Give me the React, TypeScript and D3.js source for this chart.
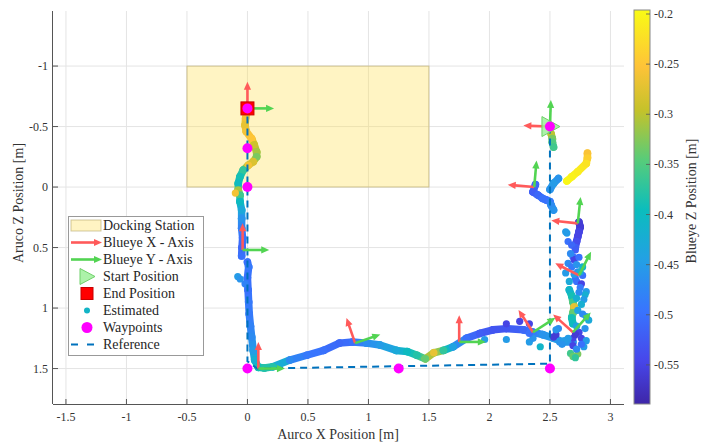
import React from 'react';
import * as d3 from 'd3';

const W = 709;
const H = 443;

// axes
const xTicks = [-1.5, -1, -0.5, 0, 0.5, 1, 1.5, 2, 2.5, 3];
const yTicks = [-1, -0.5, 0, 0.5, 1, 1.5];
const cTicks = [-0.55, -0.5, -0.45, -0.4, -0.35, -0.3, -0.25, -0.2];

// docking station (x range, z range)
const dockX = [-0.5, 1.5];
const dockZ = [-1, 0];

// waypoints + reference path
const wpX = [2.5, 2.5, 1.25, 0, 0, 0, 0];
const wpZ = [-0.5, 1.5, 1.5, 1.5, 0, -0.32, -0.65];
const refX = [2.5, 2.5, 0.08, 0, 0];
const refZ = [-0.5, 1.46, 1.5, 1.44, -0.65];

// blueye poses for the axis arrows (yaw in degrees, 0 = X axis pointing -Z)
const poseX = [2.5, 2.37, 2.73, 2.74, 2.69, 2.36, 1.75, 0.89, 0.09, -0.04, 0];
const poseZ = [-0.5, 0.0, 0.3, 0.73, 1.2, 1.2, 1.28, 1.29, 1.5, 0.52, -0.65];
const poseYaw = [-88, -85, -84, -63, -48, -33, 0, -19, 0, 0, 0];

// estimated trajectory, dense pieces (x, z, blueye depth)
const trackAX = [0.0, -0.015, -0.02, -0.01, 0.035, 0.056, 0.076, 0.076, 0.048, 0.007, -0.035, -0.062, -0.076, -0.076, -0.062, -0.062, -0.048, -0.048, -0.048, -0.04, -0.045, -0.048];
const trackAZ = [-0.63, -0.57, -0.51, -0.46, -0.4, -0.35, -0.29, -0.25, -0.21, -0.18, -0.14, -0.085, -0.03, 0.025, 0.066, 0.12, 0.19, 0.26, 0.34, 0.42, 0.5, 0.57];
const trackAD = [-0.26, -0.26, -0.27, -0.26, -0.25, -0.29, -0.31, -0.33, -0.28, -0.26, -0.37, -0.39, -0.4, -0.31, -0.36, -0.4, -0.43, -0.46, -0.48, -0.5, -0.51, -0.5];

const trackBX = [0.0, 0.01, 0.0, 0.005, 0.01, 0.015, 0.025, 0.035, 0.048, 0.06, 0.09, 0.14, 0.21, 0.35, 0.49, 0.63, 0.76, 0.87, 0.985, 1.095, 1.23, 1.32, 1.4, 1.47, 1.54, 1.62, 1.7, 1.81, 1.92, 2.03, 2.14, 2.28, 2.36, 2.44, 2.53, 2.61, 2.69];
const trackBZ = [0.62, 0.66, 0.75, 0.85, 0.95, 1.05, 1.15, 1.24, 1.35, 1.43, 1.49, 1.495, 1.485, 1.43, 1.39, 1.35, 1.29, 1.28, 1.29, 1.305, 1.35, 1.36, 1.39, 1.42, 1.37, 1.35, 1.32, 1.25, 1.21, 1.18, 1.17, 1.18, 1.2, 1.22, 1.25, 1.28, 1.28];
const trackBD = [-0.5, -0.49, -0.5, -0.5, -0.49, -0.49, -0.48, -0.47, -0.45, -0.42, -0.39, -0.38, -0.38, -0.47, -0.49, -0.5, -0.51, -0.5, -0.47, -0.45, -0.43, -0.4, -0.38, -0.34, -0.27, -0.37, -0.44, -0.5, -0.52, -0.53, -0.53, -0.51, -0.49, -0.46, -0.45, -0.45, -0.46];

const trackCX = [2.81, 2.81, 2.8, 2.73, 2.68, 2.64];
const trackCZ = [-0.28, -0.24, -0.195, -0.127, -0.085, -0.05];
const trackCD = [-0.255, -0.24, -0.22, -0.21, -0.205, -0.2];

const trackDX = [2.57, 2.53, 2.5];
const trackDZ = [-0.07, -0.03, 0.02];
const trackDD = [-0.46, -0.45, -0.46];

const trackEX = [2.38, 2.36, 2.4, 2.44, 2.47, 2.5, 2.51, 2.53];
const trackEZ = [-0.02, 0.04, 0.066, 0.094, 0.107, 0.12, 0.15, 0.19];
const trackED = [-0.51, -0.52, -0.51, -0.5, -0.5, -0.49, -0.47, -0.46];

const trackSX = [2.51, 2.52, 2.52, 2.53];
const trackSZ = [-0.44, -0.4, -0.37, -0.33];
const trackSD = [-0.3, -0.33, -0.35, -0.36];

const trackGX = [2.74, 2.75, 2.74, 2.73, 2.72, 2.71];
const trackGZ = [0.29, 0.33, 0.37, 0.41, 0.45, 0.5];
const trackGD = [-0.56, -0.56, -0.55, -0.55, -0.54, -0.52];

const trackHX = [2.66, 2.68, 2.69, 2.7, 2.69, 2.68, 2.69];
const trackHZ = [0.85, 0.9, 0.95, 0.99, 1.04, 1.08, 1.13];
const trackHD = [-0.41, -0.39, -0.36, -0.27, -0.34, -0.39, -0.4];

// estimated trajectory, loose points
const dotX = [-0.1, -0.08, -0.06, -0.02, 2.64, 2.63, 2.65, 2.68, 2.71, 2.69, 2.65, 2.68, 2.77, 2.73, 2.63, 2.77, 2.71, 2.72, 2.76, 2.75, 2.8, 2.79, 2.78, 2.8, 2.82, 2.74, 2.76, 2.69, 2.8, 2.69, 2.78, 2.65, 2.58, 2.53, 2.55, 2.57, 2.55, 2.67, 2.69, 2.73, 2.71, 2.14, 2.25, 2.33, 2.14, 2.33, 2.36, 1.96, 2.42, 2.33,
  2.7, 2.74, 2.67, 2.72, 2.75, 2.7, 2.66, 2.74, 2.72, 2.76, 2.73, 2.77, 2.72, 2.79, 2.71, 2.76, 2.72, 2.62, 2.6];
const dotZ = [0.05, 0.74, 0.76, 0.8, 0.38, 0.37, 0.45, 0.48, 0.52, 0.575, 0.63, 0.66, 0.66, 0.7, 0.71, 0.73, 0.755, 0.78, 0.8, 0.83, 0.865, 0.89, 0.93, 1.07, 1.1, 1.2, 1.25, 1.25, 1.27, 1.31, 1.32, 1.25, 1.28, 1.24, 1.22, 1.17, 1.18, 1.375, 1.4, 1.38, 1.41, 1.13, 1.11, 1.13, 1.26, 1.28, 1.25, 1.26, 1.32, 1.21,
  0.6, 0.58, 0.55, 0.64, 0.7, 0.72, 0.78, 0.87, 0.92, 0.97, 1.02, 1.05, 1.15, 1.17, 1.22, 1.3, 1.34, 1.27, 1.3];
const dotD = [-0.26, -0.45, -0.46, -0.48, -0.45, -0.45, -0.5, -0.51, -0.52, -0.5, -0.47, -0.49, -0.41, -0.47, -0.45, -0.5, -0.5, -0.5, -0.55, -0.49, -0.45, -0.42, -0.45, -0.45, -0.43, -0.55, -0.55, -0.55, -0.45, -0.55, -0.45, -0.45, -0.46, -0.56, -0.56, -0.47, -0.46, -0.36, -0.34, -0.33, -0.37, -0.55, -0.55, -0.55, -0.45, -0.45, -0.46, -0.45, -0.41, -0.5,
  -0.55, -0.5, -0.47, -0.46, -0.42, -0.45, -0.43, -0.47, -0.42, -0.42, -0.44, -0.47, -0.44, -0.46, -0.56, -0.5, -0.47, -0.45, -0.46];

// parula colormap stops
const parulaT = [0, 0.111, 0.238, 0.365, 0.492, 0.619, 0.746, 0.857, 1];
const parulaC = ['#3e26a8', '#4747eb', '#3875fe', '#23a0e5', '#0bbdbd', '#57cc7a', '#c5c22a', '#fec338', '#f9fb15'];
const cMin = -0.589;
const cMax = -0.196;

const FONT = "'Liberation Serif', 'DejaVu Serif', serif";
const RED = '#ff5a5a';
const GREEN = '#52d452';
const ARROW_LEN = 0.22;

function Arrow({ x0, y0, x1, y1, color }: { x0: number; y0: number; x1: number; y1: number; color: string }) {
  const dx = x1 - x0;
  const dy = y1 - y0;
  const len = Math.sqrt(dx * dx + dy * dy);
  const ux = dx / len;
  const uy = dy / len;
  const hl = 8;
  const hw = 3.6;
  const bx = x1 - ux * hl;
  const by = y1 - uy * hl;
  const pts = [
    [x1, y1],
    [bx - uy * hw, by + ux * hw],
    [bx + uy * hw, by - ux * hw],
  ];
  return (
    <g>
      <line x1={x0} y1={y0} x2={bx + ux} y2={by + uy} stroke={color} strokeWidth={2.6} />
      <polygon points={pts.map(p => p.join(',')).join(' ')} fill={color} />
    </g>
  );
}

export default function App() {
  const x = d3.scaleLinear().domain([-1.607, 3.112]).range([53, 624]);
  const y = d3.scaleLinear().domain([-1.455, 1.793]).range([11, 404]);
  const cb = d3.scaleLinear().domain([cMin, cMax]).range([404, 10]);
  const color = d3
    .scaleLinear<string>()
    .domain(parulaT.map(t => cMin + t * (cMax - cMin)))
    .range(parulaC)
    .interpolate(d3.interpolateRgb)
    .clamp(true);

  const tracks = [
    [trackAX, trackAZ, trackAD],
    [trackBX, trackBZ, trackBD],
    [trackCX, trackCZ, trackCD],
    [trackDX, trackDZ, trackDD],
    [trackEX, trackEZ, trackED],
    [trackSX, trackSZ, trackSD],
    [trackGX, trackGZ, trackGD],
    [trackHX, trackHZ, trackHD],
  ];

  const refLine = d3
    .line<number>()
    .x(i => x(refX[i]))
    .y(i => y(refZ[i]));

  const fmt = (v: number) => String(v);

  const legendRows = [225.5, 242.5, 259.5, 276.5, 293.5, 310.5, 327.5, 344.5];
  const legendText = ['Docking Station', 'Blueye X - Axis', 'Blueye Y - Axis', 'Start Position', 'End Position', 'Estimated', 'Waypoints', 'Reference'];

  const sx = x(wpX[0]);
  const sy = y(wpZ[0]);
  const ex = x(0);
  const ey = y(-0.65);

  return (
    <svg width={W} height={H} style={{ position: 'absolute', left: 0, top: 0, background: '#fff' }} fontFamily={FONT}>
      <defs>
        <linearGradient id="parula" x1="0" y1="1" x2="0" y2="0">
          {parulaT.map((t, i) => (
            <stop key={i} offset={t} stopColor={parulaC[i]} />
          ))}
        </linearGradient>
      </defs>

      {/* grid */}
      <g stroke="#e4e4e4" strokeWidth={1}>
        {xTicks.map(t => (
          <line key={'gx' + t} x1={x(t)} x2={x(t)} y1={11} y2={404} />
        ))}
        {yTicks.map(t => (
          <line key={'gy' + t} x1={53} x2={624} y1={y(t)} y2={y(t)} />
        ))}
      </g>

      {/* docking station */}
      <rect
        x={x(dockX[0])}
        y={y(dockZ[0])}
        width={x(dockX[1]) - x(dockX[0])}
        height={y(dockZ[1]) - y(dockZ[0])}
        fill="#ffe050"
        fillOpacity={0.34}
        stroke="#b5a66a"
        strokeOpacity={0.6}
        strokeWidth={1}
      />

      {/* estimated dense pieces */}
      {tracks.map(([tx, tz, td], k) => (
        <g key={'tr' + k}>
          {tx.slice(1).map((_, i) => (
            <line
              key={i}
              x1={x(tx[i])}
              y1={y(tz[i])}
              x2={x(tx[i + 1])}
              y2={y(tz[i + 1])}
              stroke={color((td[i] + td[i + 1]) / 2)}
              strokeWidth={7.5}
              strokeLinecap="round"
            />
          ))}
          {tx.map((_, i) => (
            <circle key={'c' + i} cx={x(tx[i])} cy={y(tz[i])} r={3.8} fill={color(td[i])} />
          ))}
        </g>
      ))}

      {/* estimated loose points */}
      {dotX.map((_, i) => (
        <circle key={'d' + i} cx={x(dotX[i])} cy={y(dotZ[i])} r={3.6} fill={color(dotD[i])} />
      ))}

      {/* reference */}
      <path
        d={refLine(d3.range(refX.length)) || ''}
        fill="none"
        stroke="#0072bd"
        strokeWidth={2}
        strokeDasharray="7,5"
      />

      {/* blueye axes */}
      {poseX.map((_, i) => {
        const a = (poseYaw[i] * Math.PI) / 180;
        const bx = x(poseX[i]);
        const by = y(poseZ[i]);
        const rx = x(poseX[i] + ARROW_LEN * Math.sin(a));
        const ry = y(poseZ[i] - ARROW_LEN * Math.cos(a));
        const gx = x(poseX[i] + ARROW_LEN * Math.cos(a));
        const gy = y(poseZ[i] + ARROW_LEN * Math.sin(a));
        return (
          <g key={'p' + i}>
            <Arrow x0={bx} y0={by} x1={rx} y1={ry} color={RED} />
            <Arrow x0={bx} y0={by} x1={gx} y1={gy} color={GREEN} />
          </g>
        );
      })}

      {/* start / end */}
      <polygon
        points={`${sx - 8},${sy - 10} ${sx - 8},${sy + 10} ${sx + 10},${sy}`}
        fill="#9ef09a"
        fillOpacity={0.85}
        stroke="#6fd06a"
        strokeWidth={1}
      />
      <rect x={ex - 6.5} y={ey - 6.5} width={13} height={13} fill="#ff0000" stroke="#c80000" strokeWidth={1} />

      {/* waypoints */}
      {wpX.map((_, i) => (
        <circle key={'w' + i} cx={x(wpX[i])} cy={y(wpZ[i])} r={5} fill="#ff00ff" />
      ))}

      {/* axes lines + ticks */}
      <g stroke="#555" strokeWidth={1} fill="none">
        <line x1={53} x2={624} y1={404.5} y2={404.5} />
        <line x1={52.5} x2={52.5} y1={11} y2={404} />
        {xTicks.map(t => (
          <line key={'tx' + t} x1={x(t)} x2={x(t)} y1={404} y2={399} />
        ))}
        {yTicks.map(t => (
          <line key={'ty' + t} x1={53} x2={58} y1={y(t)} y2={y(t)} />
        ))}
      </g>
      <g fontSize={12} fill="#333">
        {xTicks.map(t => (
          <text key={'lx' + t} x={x(t)} y={417} textAnchor="middle" dominantBaseline="central">
            {fmt(t)}
          </text>
        ))}
        {yTicks.map(t => (
          <text key={'ly' + t} x={48} y={y(t)} textAnchor="end" dominantBaseline="central">
            {fmt(t)}
          </text>
        ))}
      </g>
      <text x={338} y={434} fontSize={14} fill="#333" textAnchor="middle" dominantBaseline="central">
        Aurco X Position [m]
      </text>
      <text
        transform={`translate(18,203) rotate(-90)`}
        fontSize={14}
        fill="#333"
        textAnchor="middle"
        dominantBaseline="central"
      >
        Aruco Z Position [m]
      </text>

      {/* colorbar */}
      <rect x={634} y={10} width={16} height={394} fill="url(#parula)" stroke="#888" strokeWidth={1} />
      <g stroke="#555" strokeWidth={0.8}>
        {cTicks.map(t => (
          <line key={'ct' + t} x1={646} x2={650} y1={cb(t)} y2={cb(t)} />
        ))}
      </g>
      <g fontSize={12} fill="#333">
        {cTicks.map(t => (
          <text key={'cl' + t} x={654} y={cb(t)} dominantBaseline="central">
            {fmt(t)}
          </text>
        ))}
      </g>
      <text
        transform={`translate(691,201) rotate(-90)`}
        fontSize={14}
        fill="#333"
        textAnchor="middle"
        dominantBaseline="central"
      >
        Blueye Z Position [m]
      </text>

      {/* legend */}
      <g>
        <rect x={68.5} y={216.5} width={135} height={139} fill="#fff" stroke="#999" strokeWidth={1} />
        <rect x={71} y={220} width={30} height={11} fill="#ffe050" fillOpacity={0.34} stroke="#b5a66a" strokeOpacity={0.6} />
        <Arrow x0={71} y0={legendRows[1]} x1={102} y1={legendRows[1]} color={RED} />
        <Arrow x0={71} y0={legendRows[2]} x1={102} y1={legendRows[2]} color={GREEN} />
        <polygon
          points={`${80},${legendRows[3] - 8} ${80},${legendRows[3] + 8} ${95},${legendRows[3]}`}
          fill="#9ef09a"
          fillOpacity={0.85}
          stroke="#6fd06a"
        />
        <rect x={81} y={legendRows[4] - 6} width={12} height={12} fill="#ff0000" stroke="#c80000" />
        <circle cx={87} cy={legendRows[5]} r={3} fill="#12b4c6" />
        <circle cx={87} cy={legendRows[6]} r={5.5} fill="#ff00ff" />
        <line x1={71} x2={103} y1={legendRows[7]} y2={legendRows[7]} stroke="#0072bd" strokeWidth={2} strokeDasharray="7,9" />
        <g fontSize={14} fill="#262626">
          {legendText.map((s, i) => (
            <text key={s} x={103} y={legendRows[i]} dominantBaseline="central">
              {s}
            </text>
          ))}
        </g>
      </g>
    </svg>
  );
}
